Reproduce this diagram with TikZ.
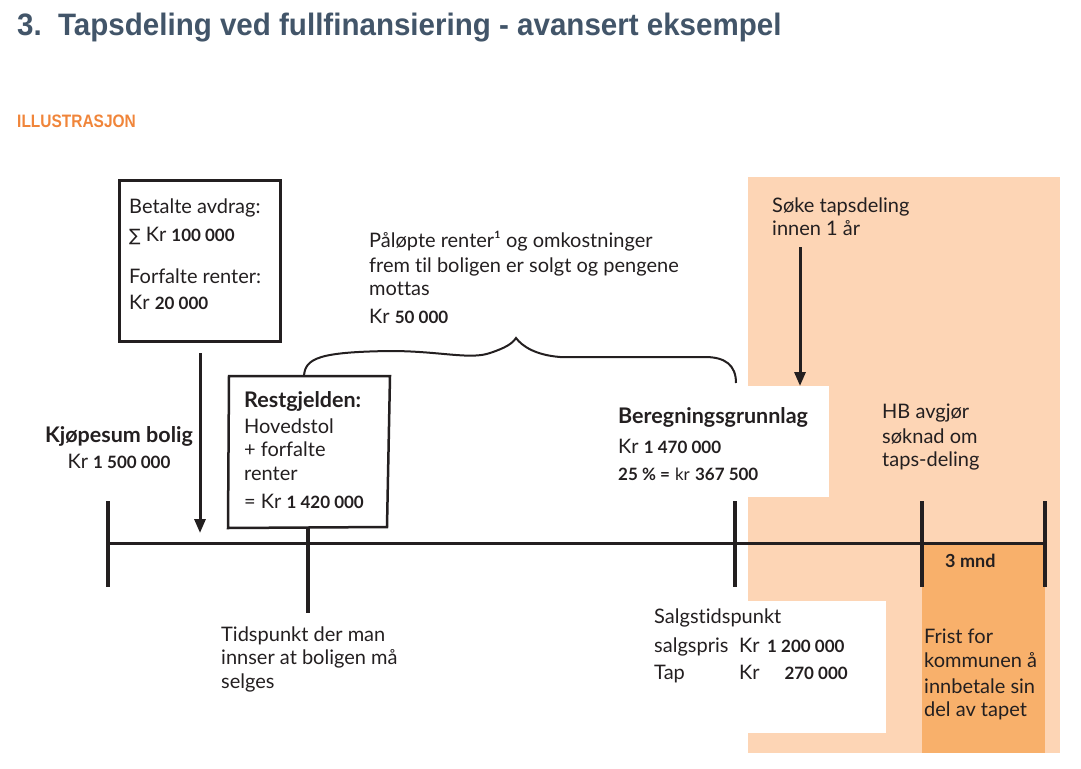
\documentclass[tikz,border=0pt]{standalone}
\usepackage{fontspec}
\setmainfont{Lato}[Ligatures=NoCommon]
\newfontfamily\titlefont{Liberation Sans}
\newfontfamily\symfont{DejaVu Sans}
\usetikzlibrary{arrows.meta}
\definecolor{ink}{HTML}{231F20}
\definecolor{titlecol}{HTML}{425569}
\definecolor{orangetxt}{HTML}{F0853A}
\definecolor{peach}{HTML}{FDD5B5}
\definecolor{deeporange}{HTML}{F8B06B}
\newcommand{\knum}[1]{{\bfseries\fontsize{17}{17}\selectfont #1}}
\newcommand{\kr}{{\fontsize{20}{20}\selectfont Kr}}
\begin{document}
\begin{tikzpicture}[x=1pt,y=-1pt,
  txt/.style={anchor=base west, inner sep=0pt, text=ink, font=\fontsize{20}{24.5}\selectfont},
  btxt/.style={txt, font=\bfseries\fontsize{21.5}{24.5}\selectfont},
  arr/.style={draw=ink, line width=3pt, -{Triangle[length=14pt,width=11pt]}},
  tick/.style={draw=ink, line width=4pt},
  timeline/.style={draw=ink, line width=3pt},
  box/.style={draw=ink, line width=3pt, fill=white},
  bracestyle/.style={draw=ink, line width=2pt}
]
\useasboundingbox (0,0) rectangle (1081,768);

% backgrounds
\fill[peach] (748,177) rectangle (1060,753);
\fill[deeporange] (922,543) rectangle (1045,753);
\fill[white] (748,386) rectangle (829,497);
\fill[white] (748,601) rectangle (886,733);

% title
\node[anchor=base west, inner sep=0pt] (title) at (17,36)
  {\scalebox{0.953}[1]{\titlefont\bfseries\fontsize{31}{31}\selectfont\color{titlecol}3.\hspace{0.55em}Tapsdeling ved fullfinansiering - avansert eksempel}};
\node[anchor=base west, inner sep=0pt] (illu) at (17,127)
  {\scalebox{0.86}[1]{\titlefont\bfseries\fontsize{18}{18}\selectfont\color{orangetxt}ILLUSTRASJON}};

% timeline
\coordinate (t0) at (108,543);
\coordinate (t5) at (1045,543);
\draw[timeline] (t0) -- (t5);
\draw[tick] (108,501) -- (108,587);
\draw[tick] (308,527) -- (308,613);
\draw[tick] (735,501) -- (735,587);
\draw[tick] (922,501) -- (922,587);
\draw[tick] (1045,501) -- (1045,587);

% Betalte box
\node[box, minimum width=161pt, minimum height=161pt, anchor=north west, inner sep=0pt] (betbox) at (117.5,178.5) {};
\node[txt] (bet1) at (129,213) {Betalte avdrag:};
\node[txt] (bet2) at (129,241) {{\symfont\fontsize{17}{17}\selectfont ∑} \kr{} \knum{100 000}};
\node[txt] (bet3) at (129,283) {Forfalte renter:};
\node[txt] (bet4) at (129,309) {\kr{} \knum{20 000}};
\coordinate (a1s) at (200,353);
\coordinate (a1e) at (200,533);
\draw[arr] (a1s) -- (a1e);

% Kjopesum
\node[btxt, anchor=base] (kjop1) at (119,442) {Kjøpesum bolig};
\node[txt, anchor=base] (kjop2) at (119,468) {\kr{} \knum{1 500 000}};

% brace
\coordinate (bl) at (304,376);
\coordinate (btip) at (516,338);
\coordinate (br) at (736,383);
\draw[bracestyle] (bl) .. controls (305,358) and (320,352) .. (390,351)
  .. controls (440,351) and (470,360) .. (490,353)
  .. controls (505,348) and (512,344) .. (btip)
  .. controls (522,346) and (535,355) .. (560,357)
  -- (705,357) .. controls (725,357) and (736,365) .. (br);

% Restgjelden box
\draw[box, line width=2.5pt] (229,376) -- (390,376) -- (387,527) -- (228,528) -- cycle;
\node[btxt] (rest1) at (244,407) {Restgjelden:};
\node[txt] (rest2) at (244,433) {Hovedstol};
\node[txt] (rest3) at (244,456) {+ forfalte};
\node[txt] (rest4) at (244,480) {renter};
\node[txt] (rest5) at (244,508) {= \kr{} \knum{1 420 000}};

% Palopte
\node[txt] (pal1) at (369,247) {Påløpte renter¹ og omkostninger};
\node[txt] (pal2) at (369,272) {frem til boligen er solgt og pengene};
\node[txt] (pal3) at (369,295) {mottas};
\node[txt] (pal4) at (369,323) {\kr{} \knum{50 000}};

% Beregningsgrunnlag
\node[btxt] (ber1) at (618,423) {Beregningsgrunnlag};
\node[txt] (ber2) at (618,453) {\kr{} \knum{1 470 000}};
\node[txt] (ber3) at (618,480) {\knum{25 \% =} {\fontsize{17}{17}\selectfont kr} \knum{367 500}};

% Soke
\node[txt] (soke1) at (772,212) {Søke tapsdeling};
\node[txt] (soke2) at (772,235) {innen 1 år};
\coordinate (a2s) at (800,247);
\coordinate (a2e) at (800,386);
\draw[arr] (a2s) -- (a2e);

% HB
\node[txt] (hb1) at (882,418) {HB avgjør};
\node[txt] (hb2) at (882,443) {søknad om};
\node[txt] (hb3) at (882,466) {taps-deling};

% 3 mnd
\node[txt, font=\bfseries\fontsize{18}{18}\selectfont] (mnd) at (945,567) {3 mnd};

% Salgstidspunkt
\node[txt] (salg1) at (654,623) {Salgstidspunkt};
\node[txt] (salg2) at (654,652) {salgspris};
\node[txt] (salg3) at (654,679) {Tap};
\node[txt] (salgkr1) at (739,652) {\kr};
\node[txt] (salgkr2) at (739,679) {\kr};
\node[txt] (salgn1) at (767,652) {\knum{1 200 000}};
\node[txt, anchor=base east] (salgn2) at (848,679) {\knum{270 000}};

% Frist
\node[txt] (frist1) at (924,643) {Frist for};
\node[txt] (frist2) at (924,667) {kommunen å};
\node[txt] (frist3) at (924,693) {innbetale sin};
\node[txt] (frist4) at (924,716) {del av tapet};

% Tidspunkt
\node[txt] (tid1) at (221,641) {Tidspunkt der man};
\node[txt] (tid2) at (221,664) {innser at boligen må};
\node[txt] (tid3) at (221,688) {selges};
\end{tikzpicture}
\end{document}
